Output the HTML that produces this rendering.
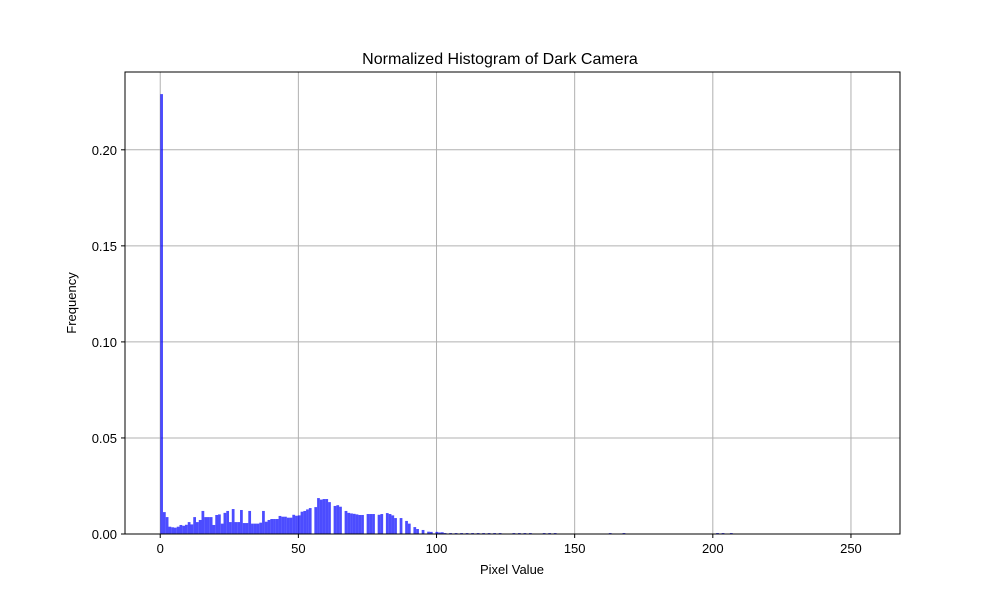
<!DOCTYPE html>
<html><head><meta charset="utf-8"><style>
html,body{margin:0;padding:0;background:#fff}
svg{display:block;font-family:"Liberation Sans","DejaVu Sans",sans-serif}
</style></head><body>
<svg id="chart" width="1000" height="600">
<rect width="1000" height="600" fill="#fff"/>
<g id="grid"></g>
<g id="bars"></g>
<rect x="125" y="72" width="775" height="462" fill="none" stroke="#000" stroke-width="1"/>
<g id="xticks"></g>
<g id="yticks"></g>
<text x="500" y="64" text-anchor="middle" font-size="16">Normalized Histogram of Dark Camera</text>
<text x="512" y="574" text-anchor="middle" font-size="13">Pixel Value</text>
<text x="76" y="303" text-anchor="middle" font-size="13" transform="rotate(-90 76 303)">Frequency</text>
</svg>
<script>
const binIndex = [0,1,2,3,4,5,6,7,8,9,10,11,12,13,14,15,16,17,18,19,20,21,22,23,24,25,26,27,28,29,30,31,32,33,34,35,36,37,38,39,40,41,42,43,44,45,46,47,48,49,50,51,52,53,54,56,57,58,59,60,61,63,64,65,67,68,69,70,71,72,73,75,76,77,79,80,82,83,84,85,87,89,90,92,93,95,97,98,100,101,102,103,105,107,109,111,113,115,117,119,121,123,128,130,132,134,139,141,143,163,168,202,204,207];
const binFreq = [0.229,0.0114,0.0088,0.0038,0.0035,0.0033,0.0038,0.0047,0.0043,0.0048,0.0062,0.005,0.0088,0.0062,0.0073,0.012,0.0088,0.0088,0.0088,0.0047,0.0099,0.0102,0.0054,0.011,0.012,0.0062,0.013,0.0062,0.0062,0.0125,0.0057,0.0057,0.012,0.0054,0.0054,0.0054,0.0059,0.012,0.0064,0.0073,0.0078,0.0078,0.0078,0.0094,0.009,0.009,0.0085,0.0085,0.010,0.0095,0.0097,0.0116,0.012,0.0128,0.0135,0.014,0.0187,0.0179,0.0182,0.0182,0.0166,0.0146,0.015,0.0142,0.012,0.011,0.0107,0.0105,0.0102,0.0099,0.0099,0.0104,0.0104,0.0104,0.010,0.0104,0.0109,0.0104,0.0097,0.0083,0.0083,0.0068,0.0054,0.0036,0.0026,0.0021,0.0012,0.0011,0.0011,0.0008,0.0009,0.0005,0.0005,0.0005,0.0005,0.0005,0.0005,0.0005,0.0005,0.0005,0.0005,0.0005,0.0005,0.0005,0.0005,0.0005,0.0005,0.0005,0.0005,0.0005,0.0005,0.0005,0.0005,0.0005,0.0005];
const xTicks = [0,50,100,150,200,250];
const yTicks = [0,0.05,0.10,0.15,0.20];
const yTickLabels = ["0.00","0.05","0.10","0.15","0.20"];

const L=125,R=900,T=72,B=534;
const xMin=-12.75,xMax=267.75,yMax=0.2405;
const X=v=>L+(v-xMin)/(xMax-xMin)*(R-L);
const Y=v=>B-v/yMax*(B-T);
const NS="http://www.w3.org/2000/svg";
function mk(tag,attrs,parent){const e=document.createElementNS(NS,tag);for(const k in attrs)e.setAttribute(k,attrs[k]);parent.appendChild(e);return e;}
const grid=document.getElementById('grid'),bars=document.getElementById('bars'),xt=document.getElementById('xticks'),yt=document.getElementById('yticks');
xTicks.forEach(v=>{
  const g=mk('line',{x1:X(v),x2:X(v),y1:T,y2:B,stroke:'#b0b0b0','stroke-width':1},grid);
  
  
  const t=mk('line',{x1:X(v),x2:X(v),y1:B,y2:B+4,stroke:'#000'},xt);
  
  
  const l=mk('text',{x:X(v),y:B+19,'text-anchor':'middle','font-size':13},xt);
  l.textContent=String(v);
  
  
});
yTicks.forEach((v,i)=>{
  const g=mk('line',{x1:L,x2:R,y1:Y(v),y2:Y(v),stroke:'#b0b0b0','stroke-width':1},grid);
  
  
  const t=mk('line',{x1:L-4,x2:L,y1:Y(v),y2:Y(v),stroke:'#000'},yt);
  
  
  const l=mk('text',{x:L-8,y:Y(v)+5,'text-anchor':'end','font-size':13},yt);
  l.textContent=yTickLabels[i];
  
  
});
const bw=255/256;
binIndex.forEach((b,i)=>{
  const x0=X(b*bw),x1=X((b+1)*bw);
  const r=mk('rect',{x:x0,y:Y(binFreq[i]),width:x1-x0,height:B-Y(binFreq[i]),fill:'#0000ff','fill-opacity':0.7},bars);
  
  
});
</script>
</body></html>
